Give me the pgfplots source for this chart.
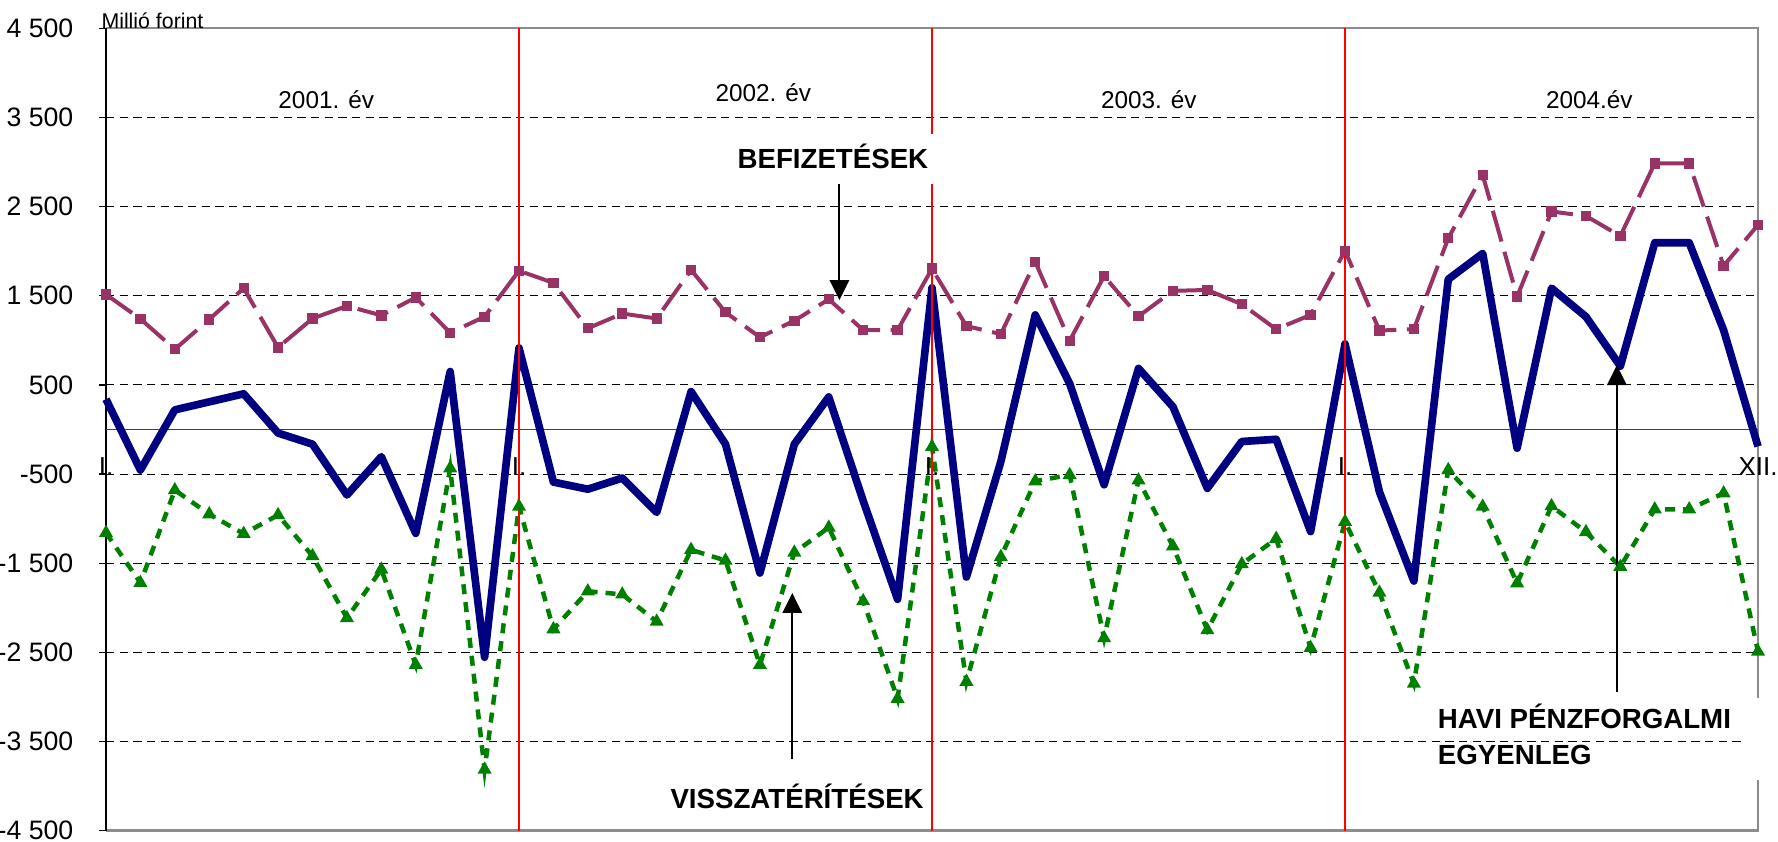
\documentclass[border=0pt]{standalone}
\usepackage{fontspec}
\setmainfont{Liberation Sans}
\usepackage{pgfplots}
\pgfplotsset{compat=1.18}
\usetikzlibrary{arrows.meta}
\definecolor{egyenleg}{RGB}{0,0,128}
\definecolor{befiz}{RGB}{153,51,102}
\definecolor{vissza}{RGB}{0,128,0}
\definecolor{keret}{RGB}{140,140,140}

\begin{document}
\begin{tikzpicture}
\begin{axis}[
  scale only axis, width=495.6pt, height=240.7pt,
  xmin=0, xmax=48, ymin=-4500, ymax=4500,
  xtick=\empty,
  ytick={-4500,-3500,...,4500},
  yticklabels={-4 500,-3 500,-2 500,-1 500,-500,500,1 500,2 500,3 500,4 500},
  ytick pos=left, tick align=outside, major tick length=2pt,
  ytick style={black, line width=0.4pt},
  yticklabel style={font=\fontsize{8}{9}\selectfont, inner sep=0pt, anchor=east, xshift=-7.6pt},
  ymajorgrids, grid style={black, line width=0.3pt, dash pattern=on 2.5pt off 1.6pt},
  axis line style={draw=none},
  clip=false,
]
% keret es nulla vonal
\draw[keret, line width=0.7pt] (rel axis cs:0,1) -- (rel axis cs:1,1) -- (rel axis cs:1,0) -- (rel axis cs:0,0);
\draw[black, line width=0.45pt] (rel axis cs:0,0) -- (rel axis cs:0,1);
\draw[black!75, line width=0.45pt] (axis cs:0,0) -- (axis cs:48,0);
\draw[black, line width=0.45pt] (axis cs:0,0) -- ++(0,-2pt);
\draw[black, line width=0.45pt] (axis cs:12,0) -- ++(0,-2pt);
\draw[black, line width=0.45pt] (axis cs:24,0) -- ++(0,-2pt);
\draw[black, line width=0.45pt] (axis cs:36,0) -- ++(0,-2pt);

% befizetesek
\addplot[befiz, line width=1.2pt, dash pattern=on 9.6pt off 3.2pt,
  mark=square*, mark size=0.95pt, mark options={solid, fill=befiz, draw=befiz}] coordinates {
(0,1515)(1,1240)(2,900)(3,1235)(4,1585)(5,920)(6,1245)(7,1385)(8,1280)(9,1480)(10,1085)(11,1265)
(12,1780)(13,1645)(14,1135)(15,1300)(16,1245)(17,1790)(18,1315)(19,1035)(20,1220)(21,1460)(22,1115)(23,1115)
(24,1805)(25,1160)(26,1070)(27,1880)(28,995)(29,1720)(30,1270)(31,1555)(32,1565)(33,1405)(34,1125)(35,1285)
(36,2005)(37,1110)(38,1125)(39,2145)(40,2855)(41,1490)(42,2445)(43,2395)(44,2170)(45,2985)(46,2985)(47,1835)
(48,2295)
};
% visszateritesek
\addplot[vissza, line width=1.35pt, dash pattern=on 3pt off 2.4pt,
  mark=triangle*, mark size=1.1pt, mark options={solid, fill=vissza, draw=vissza}] coordinates {
(0,-1160)(1,-1720)(2,-680)(3,-950)(4,-1170)(5,-960)(6,-1420)(7,-2115)(8,-1570)(9,-2640)(10,-435)(11,-3815)
(12,-865)(13,-2240)(14,-1815)(15,-1850)(16,-2155)(17,-1350)(18,-1470)(19,-2640)(20,-1380)(21,-1100)(22,-1925)(23,-3020)
(24,-195)(25,-2830)(26,-1430)(27,-580)(28,-510)(29,-2340)(30,-570)(31,-1310)(32,-2250)(33,-1510)(34,-1225)(35,-2450)
(36,-1035)(37,-1830)(38,-2850)(39,-455)(40,-865)(41,-1725)(42,-860)(43,-1150)(44,-1540)(45,-895)(46,-895)(47,-715)
(48,-2490)
};
% havi egyenleg
\addplot[egyenleg, line width=2.3pt, line join=round] coordinates {
(0,340)(1,-455)(2,220)(3,310)(4,400)(5,-40)(6,-165)(7,-735)(8,-305)(9,-1165)(10,650)(11,-2555)
(12,915)(13,-590)(14,-670)(15,-545)(16,-930)(17,425)(18,-165)(19,-1610)(20,-165)(21,365)(22,-800)(23,-1905)
(24,1590)(25,-1655)(26,-360)(27,1285)(28,515)(29,-620)(30,685)(31,255)(32,-660)(33,-135)(34,-110)(35,-1145)
(36,960)(37,-700)(38,-1700)(39,1685)(40,1975)(41,-210)(42,1585)(43,1265)(44,710)(45,2095)(46,2095)(47,1115)
(48,-190)
};

% evhatarok
\draw[red, line width=0.35pt] (axis cs:12,-4500) -- (axis cs:12,4500);
\draw[red, line width=0.35pt] (axis cs:24,-4500) -- (axis cs:24,4500);
\draw[red, line width=0.35pt] (axis cs:36,-4500) -- (axis cs:36,4500);

% feliratok
\node[font=\fontsize{6.4}{7}\selectfont, anchor=base west, inner sep=0pt] at (axis cs:-0.15,4500) {Millió forint};
\node[font=\fontsize{7.3}{9}\selectfont, anchor=base] at (axis cs:6.4,3600) {2001. év};
\node[font=\fontsize{7.3}{9}\selectfont, anchor=base] at (axis cs:19.1,3675) {2002. év};
\node[font=\fontsize{7.3}{9}\selectfont, anchor=base] at (axis cs:30.3,3600) {2003. év};
\node[font=\fontsize{7.3}{9}\selectfont, anchor=base] at (axis cs:43.1,3600) {2004.év};
\node[font=\fontsize{7.8}{9}\selectfont, anchor=base] at (axis cs:0,-521) {I.};
\node[font=\fontsize{7.8}{9}\selectfont, anchor=base] at (axis cs:12,-521) {I.};
\node[font=\fontsize{7.8}{9}\selectfont, anchor=base] at (axis cs:24,-521) {I.};
\node[font=\fontsize{7.8}{9}\selectfont, anchor=base] at (axis cs:36,-521) {I.};
\node[font=\fontsize{7.8}{9}\selectfont, anchor=base] at (axis cs:48,-521) {XII.};

\node[font=\bfseries\fontsize{8.3}{10}\selectfont, anchor=base, fill=white, inner xsep=1.5pt, inner ysep=3pt, text depth=1.8pt] at (axis cs:21.12,2928) {BEFIZETÉSEK};
\draw[black, line width=0.6pt, -{Triangle[length=6pt,width=5.8pt]}] (axis cs:21.31,2752) -- (axis cs:21.31,1452);
\node[font=\bfseries\fontsize{8.3}{10}\selectfont, anchor=base, fill=white, inner xsep=1.5pt, inner ysep=3pt, text depth=1.4pt] at (axis cs:20.08,-4247) {VISSZATÉRÍTÉSEK};
\draw[black, line width=0.6pt, -{Triangle[length=6pt,width=5.8pt]}] (axis cs:19.94,-3694) -- (axis cs:19.94,-1834);
\fill[white] (axis cs:47.6,-3010) rectangle (axis cs:48.3,-3930);
\node[font=\bfseries\fontsize{8.3}{10}\selectfont, anchor=base west, inner sep=0pt] at (axis cs:38.68,-3350) {HAVI PÉNZFORGALMI};
\node[font=\bfseries\fontsize{8.3}{10}\selectfont, anchor=base west, inner sep=0pt] at (axis cs:38.68,-3761) {EGYENLEG};
\draw[black, line width=0.6pt, -{Triangle[length=6pt,width=5.8pt]}] (axis cs:43.9,-2940) -- (axis cs:43.9,723);

\coordinate (sw) at (rel axis cs:0,0);
\coordinate (ne) at (rel axis cs:1,1);
\end{axis}
\pgfresetboundingbox
\path[use as bounding box] ([xshift=-31.8pt,yshift=-3.4pt]sw) rectangle ([xshift=6pt,yshift=8.5pt]ne);
\end{tikzpicture}
\end{document}
